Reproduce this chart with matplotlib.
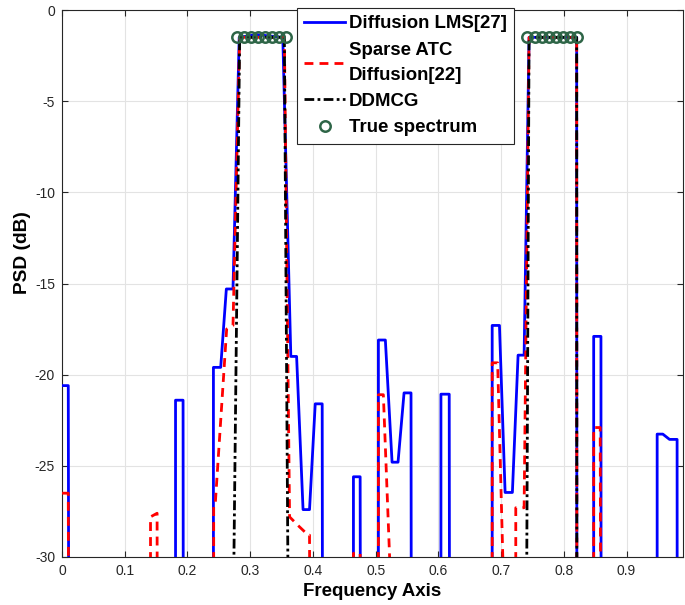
import matplotlib
matplotlib.use("Agg")
import matplotlib.pyplot as plt

plt.rcParams['font.family'] = ['Liberation Sans', 'DejaVu Sans']
plt.rcParams['axes.unicode_minus'] = False

# ---- data (frequency, PSD dB); -40 = below the visible range
blue_x = [0, 0.010, 0.011, 0.181, 0.181, 0.193, 0.1935, 0.2414, 0.2414, 0.253, 0.262, 0.2726,
          0.2825, 0.31, 0.352, 0.3648, 0.374, 0.3843, 0.3946, 0.4037, 0.4148, 0.4155,
          0.4646, 0.4646, 0.4753, 0.476, 0.5044, 0.5044, 0.5155, 0.5262, 0.5357, 0.5453,
          0.5564, 0.557, 0.6041, 0.6041, 0.6173, 0.618, 0.6858, 0.6858, 0.6974, 0.7064,
          0.718, 0.7271, 0.7367, 0.7446, 0.8205, 0.8208, 0.8476, 0.8476, 0.8592, 0.8595,
          0.9488, 0.9488, 0.9578, 0.9685, 0.9806, 0.9808]
blue_y = [-20.6, -20.6, -40, -40, -21.4, -21.4, -40, -40, -19.6, -19.6, -15.3, -15.3,
          -1.5, -1.35, -1.5, -19.0, -19.0, -27.4, -27.4, -21.6, -21.6, -40,
          -40, -25.6, -25.6, -40, -40, -18.1, -18.1, -24.8, -24.8, -21.0,
          -21.0, -40, -40, -21.07, -21.07, -40, -40, -17.3, -17.3, -26.46,
          -26.46, -18.93, -18.93, -1.5, -1.5, -40, -40, -17.9, -17.9, -40,
          -40, -23.26, -23.26, -23.55, -23.55, -40]

red_x = [0, 0.010, 0.011, 0.1411, 0.1411, 0.1516, 0.152, 0.2418, 0.2418, 0.2445, 0.2625,
         0.2726, 0.2832, 0.3545, 0.3628, 0.3787, 0.3925, 0.3946, 0.3955, 0.4646, 0.4646,
         0.4753, 0.476, 0.5044, 0.5044, 0.5123, 0.5235, 0.5245, 0.6858, 0.6858, 0.6945,
         0.7035, 0.705, 0.7234, 0.7234, 0.7367, 0.7446, 0.8205, 0.8208, 0.8476, 0.8476,
         0.858, 0.8592]
red_y = [-26.5, -26.5, -40, -40, -27.8, -27.6, -40, -40, -27.1, -27.0, -17.5,
         -17.3, -1.5, -1.5, -27.8, -28.35, -28.8, -28.8, -40, -40, -29.8,
         -29.8, -40, -40, -21.1, -21.1, -31.1, -40, -40, -19.35, -19.35,
         -31.0, -40, -40, -27.3, -27.3, -1.5, -1.5, -40, -40, -22.9,
         -22.9, -40]

black_x = [0.2709, 0.2832, 0.3545, 0.362, 0.7397, 0.7446, 0.8205, 0.8208]
black_y = [-40, -1.5, -1.5, -40, -40, -1.5, -1.5, -40]

true_x = [0.279, 0.2902, 0.3014, 0.3126, 0.3238, 0.335, 0.3462, 0.3575,
          0.742, 0.7534, 0.7648, 0.7762, 0.7876, 0.799, 0.8104, 0.8215]
true_y = [-1.5, -1.5, -1.5, -1.5, -1.5, -1.5, -1.5, -1.5,
          -1.5, -1.5, -1.5, -1.5, -1.5, -1.5, -1.5, -1.5]

labels = ['Diffusion LMS[27]', 'Sparse ATC\nDiffusion[22]', 'DDMCG', 'True spectrum']
xticks = [0, 0.1, 0.2, 0.3, 0.4, 0.5, 0.6, 0.7, 0.8, 0.9]
xticklabels = ['0', '0.1', '0.2', '0.3', '0.4', '0.5', '0.6', '0.7', '0.8', '0.9']
yticks = [-30, -25, -20, -15, -10, -5, 0]
yticklabels = ['-30', '-25', '-20', '-15', '-10', '-5', '0']

fig = plt.figure(figsize=(6.85, 6.05), dpi=100)
W, H = 685, 605
ax = fig.add_axes([62 / W, 1 - 557 / H, (683 - 62) / W, (557 - 10) / H])

ax.plot(blue_x, blue_y, color=(0, 0, 1), lw=2.0, label=labels[0], zorder=3)
ax.plot(red_x, red_y, color=(1, 0, 0), lw=2.0, ls=(0, (3.2, 2.2)), label=labels[1], zorder=4)
ax.plot(black_x, black_y, color='black', lw=2.0, ls=(0, (3.5, 1.2, 1.0, 1.2)), label=labels[2], zorder=5)
ax.plot(true_x, true_y, ls='none', marker='o', ms=7.5, mfc='none', mec='#2E6547',
        mew=1.8, label=labels[3], zorder=6)

ax.set_xlim(0, 0.99)
ax.set_ylim(-30, 0)
ax.set_xticks(xticks)
ax.set_xticklabels(xticklabels)
ax.set_yticks(yticks)
ax.set_yticklabels(yticklabels)
ax.tick_params(direction='in', length=4, width=0.8, top=True, right=True,
               labelsize=10, colors='#262626', pad=5)
ax.grid(True, color='#e3e3e3', lw=0.8)
ax.set_axisbelow(True)
for s in ax.spines.values():
    s.set_color('#262626')
    s.set_linewidth(0.8)

ax.set_xlabel('Frequency Axis', fontsize=13.5, fontweight='bold', labelpad=4)
ax.set_ylabel('PSD (dB)', fontsize=13.8, fontweight='bold')
ax.yaxis.set_label_coords((31 - 62) / 621, (557 - 253) / 547)

leg = ax.legend(loc='upper left', bbox_to_anchor=(297 / W, 1 - 8 / H),
                bbox_transform=fig.transFigure, borderaxespad=0,
                prop={'weight': 'bold', 'size': 13.4}, fancybox=False, framealpha=1,
                edgecolor='#262626', handlelength=2.2, handletextpad=0.2,
                labelspacing=0.5, borderpad=0.4)
for t in leg.get_texts():
    t.set_linespacing(1.6)
leg.get_frame().set_linewidth(0.8)
leg.set_zorder(10)

fig.savefig('out.png', dpi=100)
